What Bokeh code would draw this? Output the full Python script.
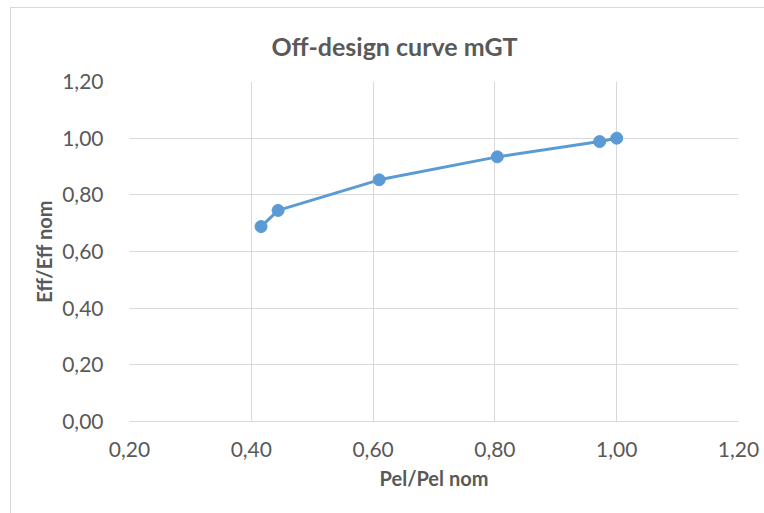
from bokeh.plotting import figure
from bokeh.models import CustomJSTickFormatter, FixedTicker, Range1d, Title
from bokeh.embed import file_html
from bokeh.resources import INLINE

# Data
pel_ratio = [0.416, 0.444, 0.610, 0.804, 0.972, 1.000]
eff_ratio = [0.688, 0.745, 0.853, 0.934, 0.988, 1.000]
x_ticks = [0.2, 0.4, 0.6, 0.8, 1.0, 1.2]
y_ticks = [0.0, 0.2, 0.4, 0.6, 0.8, 1.0, 1.2]

FONT = "Lato"
TXT = "#595959"
GRID = "#d9d9d9"
BLUE = "#5b9bd5"

W, H = 754, 506
p = figure(width=W, height=H, output_backend="svg", toolbar_location=None,
           x_range=Range1d(0.2, 1.2), y_range=Range1d(0.0, 1.2),
           min_border_left=118, min_border_right=27, min_border_top=73, min_border_bottom=93)
p.margin = (7, 0, 0, 10)
p.styles = {"border-left": "1px solid #d9d9d9", "border-top": "1px solid #d9d9d9"}
p.outline_line_color = None
p.background_fill_color = "white"
p.border_fill_color = "white"

t = Title(text="Off-design curve mGT", text_font=FONT, text_font_size="25px",
          text_font_style="bold", text_color=TXT, align="left", offset=142, standoff=41)
p.add_layout(t, "above")

fmt = CustomJSTickFormatter(code="return tick.toFixed(2).replace('.', ',');")
for ax, ticks in ((p.xaxis[0], x_ticks), (p.yaxis[0], y_ticks)):
    ax.ticker = FixedTicker(ticks=ticks)
    ax.formatter = fmt
    ax.major_tick_line_color = None
    ax.minor_tick_line_color = None
    ax.major_label_text_font = FONT
    ax.major_label_text_font_size = "21px"
    ax.major_label_text_color = TXT
    ax.axis_label_text_font = FONT
    ax.axis_label_text_font_size = "20px"
    ax.axis_label_text_font_style = "bold"
    ax.axis_label_text_color = TXT

p.xaxis.axis_label = "Pel/Pel nom"
p.yaxis.axis_label = "Eff/Eff nom"
p.xaxis.axis_line_color = GRID
p.yaxis.axis_line_color = None
p.xaxis.major_label_standoff = 14
p.yaxis.major_label_standoff = 20
p.xaxis.axis_label_standoff = 6
p.yaxis.axis_label_standoff = 3

p.xgrid.grid_line_color = GRID
p.ygrid.grid_line_color = GRID
p.xgrid.ticker = FixedTicker(ticks=x_ticks)
p.ygrid.ticker = FixedTicker(ticks=y_ticks)

p.line(pel_ratio, eff_ratio, line_color=BLUE, line_width=3)
p.scatter(pel_ratio, eff_ratio, size=12, fill_color=BLUE, line_color=BLUE)

open("out.html", "w").write(file_html(p, INLINE))
